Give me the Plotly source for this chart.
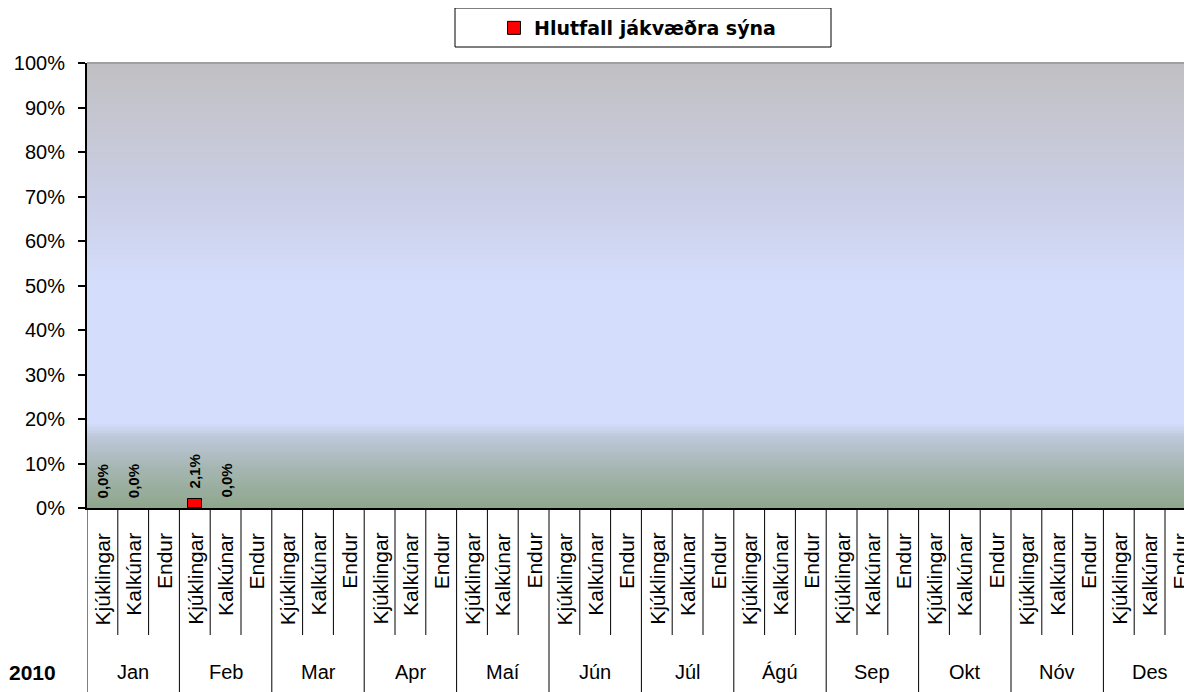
import plotly.graph_objects as go

# ---- data ----
year_label = "2010"
months = ["Jan", "Feb", "Mar", "Apr", "Maí", "Jún", "Júl", "Ágú", "Sep", "Okt", "Nóv", "Des"]
subcats = ["Kjúklingar", "Kalkúnar", "Endur"]
series_name = "Hlutfall jákvæðra sýna"
# proportion positive (fraction), None = no samples
values = [0.0, 0.0, None,
          0.021, 0.0, None] + [None] * 30
y_ticks = [i / 10 for i in range(11)]

n = len(months) * len(subcats)
xs = list(range(n))

# ---- geometry (window pixels) ----
OFF = 8  # default page body margin
PLOT_TOP, PLOT_BOT, PLOT_LEFT, PLOT_RIGHT = 63, 508, 87, 1192
PH = PLOT_BOT - PLOT_TOP
PW = PLOT_RIGHT - PLOT_LEFT
W, H = 1192 - OFF, 692 - OFF
def py(pix):
    return (PLOT_BOT - pix) / PH
def px(pix):
    return (pix - PLOT_LEFT) / PW

FONT = "Liberation Sans, Arial, sans-serif"

fig = go.Figure()
fig.add_trace(go.Bar(
    x=xs, y=values, name=series_name, width=0.45,
    marker=dict(color="#FF0000",
                line=dict(color="black", width=[1 if v else 0 for v in values])),
    showlegend=False,
))
# legend entry for the series (square marker with black outline)
fig.add_trace(go.Scatter(
    x=[None], y=[None], mode="markers", name=series_name,
    marker=dict(symbol="square", size=13, color="#FF0000", line=dict(color="black", width=1)),
    showlegend=True, hoverinfo="skip",
))

shapes = []
# gradient background stripes
stops = [(0.0, (143, 166, 140)), (0.09, (165, 182, 178)), (0.16, (190, 200, 218)),
         (0.19, (212, 222, 252)), (0.50, (212, 222, 252)), (0.68, (204, 208, 232)),
         (1.0, (192, 192, 194))]
def col(t):
    for (a, ca), (b, cb) in zip(stops[:-1], stops[1:]):
        if a <= t <= b:
            f = (t - a) / (b - a) if b > a else 0
            return "rgb(%d,%d,%d)" % tuple(round(ca[k] + (cb[k] - ca[k]) * f) for k in range(3))
    return "rgb(192,192,194)"
N = 160
for i in range(N):
    t0, t1 = i / N, (i + 1) / N
    shapes.append(dict(type="rect", xref="paper", yref="paper", x0=0, x1=1, y0=t0,
                       y1=min(1.0, t1 + 1.0 / N),
                       fillcolor=col((t0 + t1) / 2), line=dict(width=0), layer="below"))
# top border
shapes.append(dict(type="line", xref="paper", yref="paper", x0=0, x1=1, y0=1, y1=1,
                   line=dict(color="#A0A0A0", width=2), layer="below"))

# category dividers below the axis
sub_bottom = py(635)
month_bottom = py(692)
for m in range(len(months) + 1):
    xb = m * len(subcats) - 0.5
    shapes.append(dict(type="line", xref="x", yref="paper", x0=xb, x1=xb, y0=0, y1=month_bottom,
                       line=dict(color="black", width=1)))
    if m < len(months):
        for s in range(1, len(subcats)):
            xs_ = m * len(subcats) + s - 0.5
            shapes.append(dict(type="line", xref="x", yref="paper", x0=xs_, x1=xs_, y0=0, y1=sub_bottom,
                               line=dict(color="black", width=1)))

annotations = []
# data labels
for x, v in zip(xs, values):
    if v is None:
        continue
    annotations.append(dict(x=x, y=v, xref="x", yref="y", text=("%.1f%%" % (v * 100)).replace(".", ","),
                            textangle=-90, showarrow=False, yanchor="bottom", xanchor="center", yshift=8,
                            font=dict(family=FONT, size=15, color="black", weight="bold")))
# sub-category labels
for m in range(len(months)):
    for s, name in enumerate(subcats):
        annotations.append(dict(x=m * len(subcats) + s, y=py(531), xref="x", yref="paper", text=name,
                                textangle=-90, showarrow=False, yanchor="top", xanchor="center",
                                font=dict(family=FONT, size=21, color="black")))
    annotations.append(dict(x=m * len(subcats) + 1, y=py(672), xref="x", yref="paper", text=months[m],
                            showarrow=False, yanchor="middle", xanchor="center",
                            font=dict(family=FONT, size=20, color="black")))
annotations.append(dict(x=px(32), y=py(672), xref="paper", yref="paper", text=year_label,
                        showarrow=False, yanchor="middle", xanchor="center",
                        font=dict(family=FONT, size=21, color="black", weight="bold")))

# legend box
shapes.append(dict(type="rect", xref="paper", yref="paper", x0=px(455), x1=px(831), y0=py(47), y1=py(8),
                   line=dict(color="black", width=1), fillcolor="rgba(0,0,0,0)"))

fig.update_layout(
    width=W, height=H,
    margin=dict(l=PLOT_LEFT - OFF, r=W - (PLOT_RIGHT - OFF), t=PLOT_TOP - OFF, b=H - (PLOT_BOT - OFF),
                autoexpand=False),
    paper_bgcolor="white", plot_bgcolor="rgba(0,0,0,0)",
    font=dict(family=FONT, size=20, color="black"),
    shapes=shapes, annotations=annotations,
    bargap=0,
    showlegend=True,
    legend=dict(x=px(494), xanchor="left", y=py(9), yanchor="top", orientation="h",
                bgcolor="rgba(0,0,0,0)", borderwidth=0,
                font=dict(family="DejaVu Sans, sans-serif", size=19, color="black", weight="bold")),
    xaxis=dict(range=[-0.5, -0.5 + PW / 30.8], showticklabels=False, ticks="", showgrid=False,
               zeroline=False, showline=True, linecolor="black", linewidth=2, fixedrange=True),
    yaxis=dict(range=[0, 1], tickvals=y_ticks, tickformat=".0%", ticks="outside", ticklen=7,
               tickcolor="black", tickwidth=1.5, showgrid=False, zeroline=False, showline=True,
               linecolor="black", linewidth=2, tickfont=dict(family=FONT, size=20, color="black"),
               ticklabelstandoff=9, fixedrange=True),
)

fig.write_html("out.html")
